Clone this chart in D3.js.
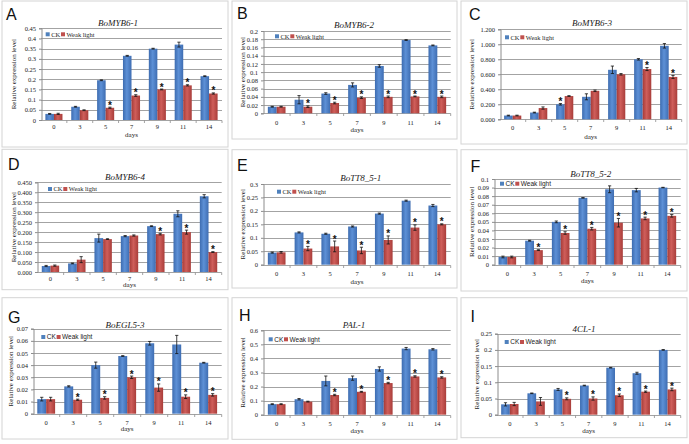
<!DOCTYPE html>
<html>
<head>
<meta charset="utf-8">
<script src="https://cdn.jsdelivr.net/npm/d3@7"></script>
<style>
  body { margin: 0; background: #fff; }
  svg { display: block; }
  .tick { font-family: "Liberation Serif", serif; font-size: 6.5px; fill: #222; }
  .ttl { font-family: "Liberation Serif", serif; font-style: italic; font-size: 9px; fill: #222; }
  .lab { font-family: "Liberation Serif", serif; font-size: 7px; fill: #222; }
  .letter { font-family: "Liberation Sans", Arial, sans-serif; font-size: 16px; fill: #111; }
</style>
</head>
<body>
<div class="graphbox"></div>
<script>
var days = ["0","3","5","7","9","11","14"];
var genes = ["BoMYB6-1","BoMYB6-2","BoMYB6-3","BoMYB6-4","BoTT8_5-1","BoTT8_5-2","BoEGL5-3","PAL-1","4CL-1"];
var letters = ["A","B","C","D","E","F","G","H","I"];
var yMax = [0.45,0.2,1.2,0.45,0.3,0.1,0.07,0.6,0.25];
var yStep = [0.05,0.02,0.2,0.05,0.05,0.01,0.01,0.1,0.05];
var yFixed = [0,0,3,3,0,0,0,0,0];
var series = ["CK","Weak light"];

var ckA = [0.030,0.065,0.195,0.315,0.350,0.370,0.215];
var ckErrA = [0.002,0.002,0.002,0.002,0.002,0.012,0.002];
var wlA = [0.030,0.048,0.060,0.120,0.150,0.170,0.130];
var wlErrA = [0.003,0.002,0.003,0.004,0.002,0.003,0.003];
var starA = ["","","WL","WL","WL","WL","WL"];

var ckB = [0.016,0.033,0.048,0.069,0.115,0.178,0.165];
var ckErrB = [0.001,0.010,0.002,0.005,0.003,0.001,0.001];
var wlB = [0.016,0.016,0.025,0.038,0.040,0.041,0.040];
var wlErrB = [0.001,0.002,0.002,0.002,0.002,0.001,0.002];
var starB = ["","WL","WL","WL","WL","WL","WL"];

var ckC = [0.050,0.090,0.200,0.300,0.660,0.800,0.980];
var ckErrC = [0.005,0.005,0.010,0.040,0.050,0.010,0.030];
var wlC = [0.050,0.150,0.310,0.380,0.600,0.670,0.565];
var wlErrC = [0.005,0.015,0.005,0.010,0.010,0.020,0.020];
var starC = ["","","CK","","","WL","WL"];

var ckD = [0.030,0.043,0.170,0.180,0.230,0.292,0.380];
var ckErrD = [0.003,0.002,0.020,0.003,0.002,0.015,0.008];
var wlD = [0.032,0.062,0.165,0.183,0.190,0.200,0.100];
var wlErrD = [0.003,0.015,0.002,0.003,0.004,0.010,0.002];
var starD = ["","","","","WL","WL","WL"];

var ckE = [0.045,0.120,0.115,0.142,0.190,0.238,0.220];
var ckErrE = [0.002,0.002,0.002,0.002,0.002,0.002,0.004];
var wlE = [0.046,0.060,0.068,0.053,0.092,0.138,0.150];
var wlErrE = [0.003,0.008,0.020,0.012,0.015,0.010,0.002];
var starE = ["","WL","WL","WL","WL","WL","WL"];

var ckF = [0.009,0.028,0.050,0.078,0.088,0.087,0.090];
var ckErrF = [0.001,0.0005,0.001,0.0003,0.004,0.002,0.0003];
var wlF = [0.009,0.017,0.037,0.042,0.049,0.054,0.057];
var wlErrF = [0.001,0.0005,0.0015,0.0015,0.005,0.0015,0.0015];
var starF = ["","WL","WL","WL","WL","WL","WL"];

var ckG = [0.012,0.0225,0.040,0.0475,0.058,0.057,0.042];
var ckErrG = [0.0015,0.0005,0.0025,0.0003,0.0015,0.0075,0.0003];
var wlG = [0.012,0.0115,0.013,0.030,0.0215,0.014,0.0155];
var wlErrG = [0.0015,0.0005,0.001,0.001,0.003,0.0015,0.001];
var starG = ["","WL","WL","WL","WL","WL","WL"];

var ckH = [0.075,0.110,0.240,0.260,0.325,0.470,0.465];
var ckErrH = [0.003,0.005,0.035,0.015,0.015,0.008,0.005];
var wlH = [0.075,0.093,0.140,0.163,0.225,0.272,0.265];
var wlErrH = [0.003,0.003,0.005,0.003,0.005,0.005,0.005];
var starH = ["","","WL","WL","WL","WL","WL"];

var ckI = [0.032,0.066,0.078,0.090,0.145,0.128,0.200];
var ckErrI = [0.005,0.001,0.003,0.001,0.001,0.003,0.001];
var wlI = [0.033,0.041,0.049,0.050,0.060,0.071,0.078];
var wlErrI = [0.005,0.012,0.003,0.005,0.004,0.002,0.004];
var starI = ["","","WL","WL","WL","WL","WL"];

var ckAll = [ckA,ckB,ckC,ckD,ckE,ckF,ckG,ckH,ckI];
var ckErrAll = [ckErrA,ckErrB,ckErrC,ckErrD,ckErrE,ckErrF,ckErrG,ckErrH,ckErrI];
var wlAll = [wlA,wlB,wlC,wlD,wlE,wlF,wlG,wlH,wlI];
var wlErrAll = [wlErrA,wlErrB,wlErrC,wlErrD,wlErrE,wlErrF,wlErrG,wlErrH,wlErrI];
var starAll = [starA,starB,starC,starD,starE,starF,starG,starH,starI];

// frame of each panel: box, plot area, text rows (pixels)
var frames = [
  {box:[2,1,228,147], px:[41,222], py:[28.3,120], tx:118, ty:22.7, lx:47.7, ly:34.3, xl:127, dy:135, yl:14, ax:6, ay:14, sans:false},
  {box:[232,1,457,139], px:[263.3,450.7], py:[31,113.3], tx:354, ty:24.7, lx:277, ly:36.3, xl:122.7, dy:130, yl:243, ax:237, ay:13.5, sans:false},
  {box:[461,1,687,144], px:[499.7,681.7], py:[29.3,119.3], tx:592, ty:22.7, lx:507, ly:37.3, xl:127.7, dy:136.7, yl:472, ax:469, ay:14.5, sans:false},
  {box:[2,149.3,228,289.7], px:[37.3,221.7], py:[182.3,272], tx:125, ty:177.3, lx:50, ly:189, xl:278.5, dy:285, yl:13.3, ax:8, ay:164.5, sans:false},
  {box:[232,149.7,457,288], px:[263.3,450.7], py:[184,264.7], tx:360.7, ty:178, lx:279, ly:191.7, xl:274, dy:281.3, yl:243, ax:237, ay:165.5, sans:false},
  {box:[461,149.7,687,291], px:[494,680.7], py:[179,264.7], tx:590.7, ty:174, lx:502, ly:183.7, xl:273.5, dy:280.5, yl:472, ax:470.5, ay:166, sans:true},
  {box:[2,297.7,228,439], px:[32.7,221.7], py:[328.7,413.7], tx:125, ty:325.3, lx:43.3, ly:337, xl:422.5, dy:429, yl:10.7, ax:8, ay:317, sans:true},
  {box:[232,297.7,457,439.3], px:[263.3,450.7], py:[330.3,414.7], tx:354, ty:325.3, lx:270.7, ly:339.3, xl:423.3, dy:431, yl:243, ax:239, ay:315, sans:true},
  {box:[461,297.7,687,437.7], px:[496.7,680.7], py:[333.7,414.7], tx:584, ty:328.7, lx:506.7, ly:342, xl:423.7, dy:431, yl:476.3, ax:470.5, ay:316, sans:true}
];

var svgWidth = 689;
var svgHeight = 444;

var mysvg = d3.select(".graphbox")
  .append("svg")
  .attr("width", svgWidth)
  .attr("height", svgHeight);

var defs = mysvg.append("defs");
var grads = [["gBlue","#3d6cb0","#5d90d6","#3e6db2"],["gRed","#a63b38","#cf5e5a","#a93d3a"]];
grads.forEach(function(g) {
  var lg = defs.append("linearGradient").attr("id", g[0]).attr("x1","0").attr("x2","1").attr("y1","0").attr("y2","0");
  lg.append("stop").attr("offset","0%").attr("stop-color", g[1]);
  lg.append("stop").attr("offset","45%").attr("stop-color", g[2]);
  lg.append("stop").attr("offset","100%").attr("stop-color", g[3]);
});
var fills = {"CK":"url(#gBlue)", "WL":"url(#gRed)"};
var legendCol = {"CK":"#4f81bd", "WL":"#c0504d"};

frames.forEach(function(f, k) {
  var g = mysvg.append("g");

  g.append("rect")
    .attr("x", f.box[0]).attr("y", f.box[1])
    .attr("width", f.box[2]-f.box[0]).attr("height", f.box[3]-f.box[1])
    .attr("fill","none").attr("stroke","#d4d4d4").attr("stroke-width",1);

  var x0 = d3.scaleBand().domain(days).range(f.px).paddingInner(0.34).paddingOuter(0.17);
  var xAll = d3.scaleBand().domain(days).range(f.px);
  var x1 = d3.scaleBand().domain(["CK","WL"]).range([0, x0.bandwidth()]);
  var y = d3.scaleLinear().domain([0, yMax[k]]).range([f.py[1], f.py[0]]);
  var ticks = d3.range(0, yMax[k] + yStep[k]/2, yStep[k]);
  var fmt = function(v) { return yFixed[k] ? v.toFixed(yFixed[k]) : String(+v.toFixed(4)); };

  // grid
  g.selectAll("line.grid").data(ticks.slice(1)).enter().append("line")
    .attr("x1", f.px[0]).attr("x2", f.px[1])
    .attr("y1", function(d) { return Math.round(y(d))+0.5; })
    .attr("y2", function(d) { return Math.round(y(d))+0.5; })
    .attr("stroke","#8c8c8c").attr("stroke-width",0.8);

  // y axis
  var yAxis = d3.axisLeft(y).tickValues(ticks).tickFormat(fmt).tickSize(2.5).tickPadding(3);
  var ya = g.append("g").attr("transform","translate(" + (Math.round(f.px[0])+0.5) + ",0)").call(yAxis);
  ya.select(".domain").attr("stroke","#8c8c8c");
  ya.selectAll(".tick line").attr("stroke","#8c8c8c");
  ya.selectAll(".tick text").attr("class","tick").attr("font-size",null).attr("font-family",null);
  ya.attr("font-size",null).attr("font-family",null);

  // x axis line + boundary ticks
  var yb = Math.round(y(0))+0.5;
  g.append("line").attr("x1", f.px[0]).attr("x2", f.px[1]).attr("y1", yb).attr("y2", yb)
    .attr("stroke","#8c8c8c").attr("stroke-width",0.8);
  g.selectAll("line.xt").data(days).enter().append("line")
    .attr("x1", function(d) { return xAll(d) + xAll.step(); })
    .attr("x2", function(d) { return xAll(d) + xAll.step(); })
    .attr("y1", yb).attr("y2", yb + 2.5)
    .attr("stroke","#8c8c8c").attr("stroke-width",0.8);
  g.selectAll("text.xl").data(days).enter().append("text")
    .attr("class","tick")
    .attr("x", function(d) { return x0(d) + x0.bandwidth()/2; })
    .attr("y", f.xl).attr("dy","0.35em").attr("text-anchor","middle")
    .text(function(d) { return d; });

  // bars
  var rows = [];
  days.forEach(function(d, i) {
    rows.push({day:d, s:"CK", v:ckAll[k][i], e:ckErrAll[k][i], star: starAll[k][i] === "CK"});
    rows.push({day:d, s:"WL", v:wlAll[k][i], e:wlErrAll[k][i], star: starAll[k][i] === "WL"});
  });
  var bx = function(d) { return x0(d.day) + x1(d.s); };
  var bc = function(d) { return bx(d) + x1.bandwidth()/2; };

  g.selectAll("rect.bar").data(rows).enter().append("rect")
    .attr("x", bx)
    .attr("y", function(d) { return y(d.v); })
    .attr("width", x1.bandwidth())
    .attr("height", function(d) { return y(0) - y(d.v); })
    .attr("fill", function(d) { return fills[d.s]; });

  // error bars
  var eb = g.selectAll("g.err").data(rows).enter().append("g").attr("stroke","#111").attr("stroke-width",0.8);
  eb.append("line")
    .attr("x1", bc).attr("x2", bc)
    .attr("y1", function(d) { return y(d.v - d.e); })
    .attr("y2", function(d) { return y(d.v + d.e); });
  eb.append("line")
    .attr("x1", function(d) { return bc(d) - 1.6; }).attr("x2", function(d) { return bc(d) + 1.6; })
    .attr("y1", function(d) { return y(d.v + d.e); }).attr("y2", function(d) { return y(d.v + d.e); });
  eb.append("line")
    .attr("x1", function(d) { return bc(d) - 1.6; }).attr("x2", function(d) { return bc(d) + 1.6; })
    .attr("y1", function(d) { return y(d.v - d.e); }).attr("y2", function(d) { return y(d.v - d.e); });

  // stars
  g.selectAll("text.star").data(rows.filter(function(d) { return d.star; })).enter().append("text")
    .attr("x", bc)
    .attr("y", function(d) { return y(d.v + d.e) + 1.5; })
    .attr("text-anchor","middle")
    .attr("font-family","Liberation Sans, Arial, sans-serif")
    .attr("font-size","10px").attr("font-weight","bold").attr("fill","#111")
    .text("*");

  // title
  g.append("text").attr("class","ttl").attr("x", f.tx).attr("y", f.ty).attr("dy","0.35em")
    .attr("text-anchor","middle").text(genes[k]);

  // legend
  var lfont = f.sans ? "Liberation Sans, Arial, sans-serif" : "Liberation Serif, serif";
  var lg = g.append("g").attr("transform","translate(" + f.lx + "," + f.ly + ")");
  lg.append("rect").attr("x",-2).attr("y",-2).attr("width",4).attr("height",4).attr("fill",legendCol.CK);
  lg.append("text").attr("x",3.5).attr("dy","0.35em").attr("font-family",lfont).attr("font-size","6.5px").attr("fill","#222").text(series[0]);
  lg.append("rect").attr("x",13.3).attr("y",-2).attr("width",4).attr("height",4).attr("fill",legendCol.WL);
  lg.append("text").attr("x",18.8).attr("dy","0.35em").attr("font-family",lfont).attr("font-size","6.5px").attr("fill","#222").text(series[1]);

  // axis labels
  g.append("text").attr("class","lab")
    .attr("transform","translate(" + f.yl + "," + ((f.py[0]+f.py[1])/2) + ") rotate(-90)")
    .attr("dy","0.35em").attr("text-anchor","middle").text("Relative expression level");
  g.append("text").attr("class","lab").attr("x", (f.px[0]+f.px[1])/2).attr("y", f.dy).attr("dy","0.35em")
    .attr("text-anchor","middle").text("days");

  // panel letter
  g.append("text").attr("class","letter").attr("x", f.ax).attr("y", f.ay).attr("dy","0.35em").text(letters[k]);
});
</script>
</body>
</html>
